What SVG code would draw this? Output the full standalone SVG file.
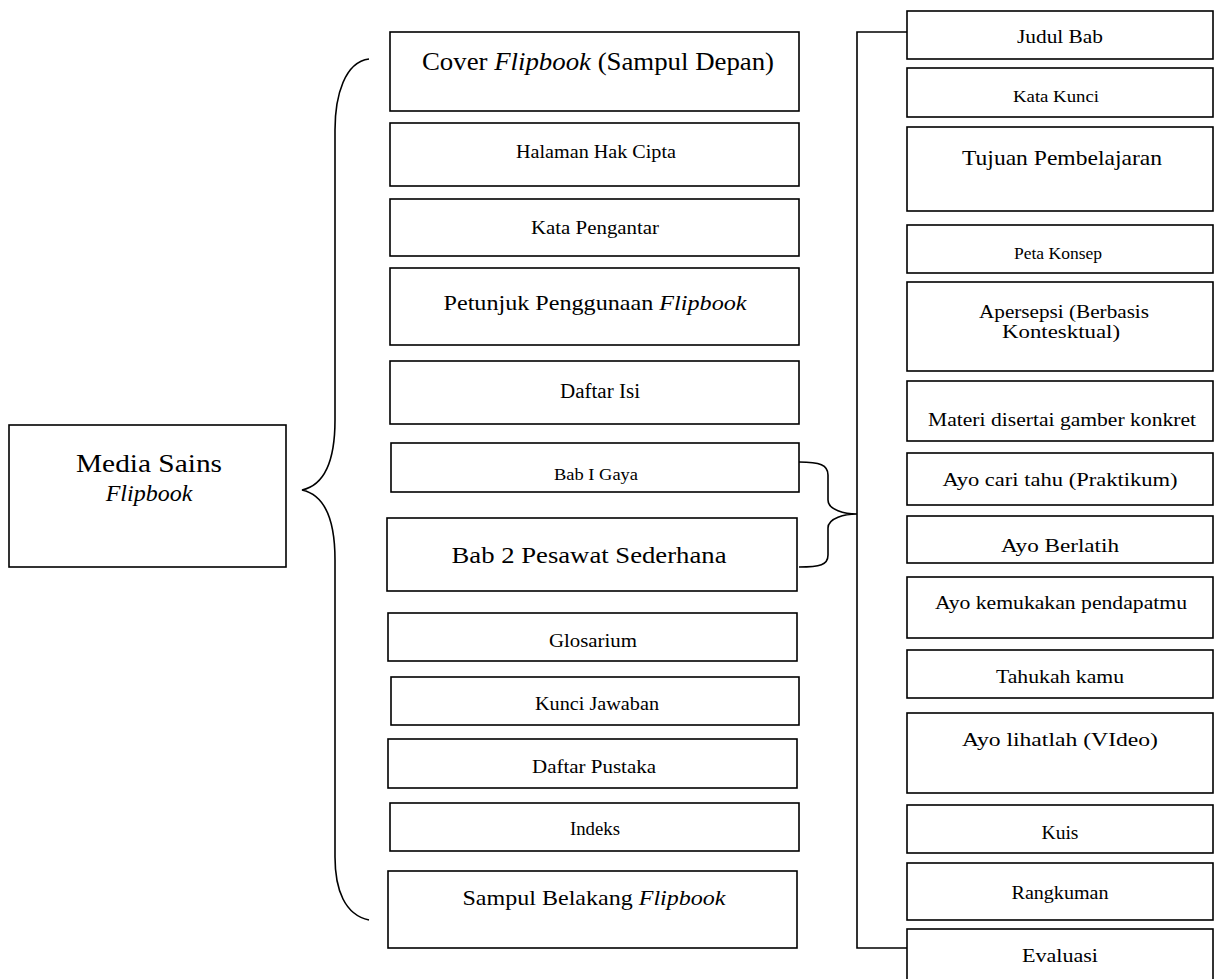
<svg xmlns="http://www.w3.org/2000/svg" width="1214" height="979" viewBox="0 0 1214 979">
<style>
rect{fill:#fff;stroke:#000;stroke-width:1.6}
text{font-family:"Liberation Serif","Times New Roman",serif;fill:#000;text-anchor:middle}
.c{fill:none;stroke:#000;stroke-width:1.6}
</style>
<rect x="0" y="0" width="1214" height="979" style="stroke:none"/>
<g id="connectors">
<path class="c" d="M369,59 C345,62 335,95 335,130 L335,420 C335,460 325,485 302,490 C325,495 335,520 335,560 L335,857 C335,890 345,915 369,920"/>
<path class="c" d="M799,462 C820,462 828,465 828,475 L828,500 C828,510 845,514 857,514 C845,514 828,518 828,528 L828,555 C828,565 820,567 799,567"/>
<path class="c" d="M907,32 L857,32 L857,948 L907,948"/>
</g>
<g id="media"><rect x="9" y="425" width="277" height="142"/><text x="149" y="472" font-size="26" textLength="146" lengthAdjust="spacingAndGlyphs">Media Sains</text><text x="149" y="501" font-size="24" font-style="italic">Flipbook</text></g>
<g id="cover"><rect x="390" y="32" width="409" height="79"/><text x="598" y="70" font-size="25" textLength="352" lengthAdjust="spacingAndGlyphs">Cover <tspan font-style="italic">Flipbook</tspan> (Sampul Depan)</text></g>
<g id="hak"><rect x="390" y="123" width="409" height="63"/><text x="596" y="158" font-size="18" textLength="160" lengthAdjust="spacingAndGlyphs">Halaman Hak Cipta</text></g>
<g id="pengantar"><rect x="390" y="199" width="409" height="57"/><text x="595" y="234" font-size="18" textLength="128" lengthAdjust="spacingAndGlyphs">Kata Pengantar</text></g>
<g id="petunjuk"><rect x="390" y="268" width="409" height="77"/><text x="595" y="310" font-size="21" textLength="303" lengthAdjust="spacingAndGlyphs">Petunjuk Penggunaan <tspan font-style="italic">Flipbook</tspan></text></g>
<g id="daftarisi"><rect x="390" y="361" width="409" height="63"/><text x="600" y="398" font-size="20" textLength="80" lengthAdjust="spacingAndGlyphs">Daftar Isi</text></g>
<g id="bab1"><rect x="391" y="443" width="408" height="49"/><text x="596" y="480" font-size="17" textLength="84" lengthAdjust="spacingAndGlyphs">Bab I Gaya</text></g>
<g id="bab2"><rect x="387" y="518" width="410" height="73"/><text x="589" y="563" font-size="23" textLength="275" lengthAdjust="spacingAndGlyphs">Bab 2 Pesawat Sederhana</text></g>
<g id="glosarium"><rect x="388" y="613" width="409" height="48"/><text x="593" y="647" font-size="18" textLength="88" lengthAdjust="spacingAndGlyphs">Glosarium</text></g>
<g id="kunci"><rect x="391" y="677" width="408" height="48"/><text x="597" y="710" font-size="18" textLength="124" lengthAdjust="spacingAndGlyphs">Kunci Jawaban</text></g>
<g id="pustaka"><rect x="388" y="739" width="409" height="49"/><text x="594" y="773" font-size="18" textLength="124" lengthAdjust="spacingAndGlyphs">Daftar Pustaka</text></g>
<g id="indeks"><rect x="390" y="803" width="409" height="48"/><text x="595" y="835" font-size="18" textLength="50" lengthAdjust="spacingAndGlyphs">Indeks</text></g>
<g id="belakang"><rect x="388" y="871" width="409" height="77"/><text x="594" y="905" font-size="21" textLength="263" lengthAdjust="spacingAndGlyphs">Sampul Belakang <tspan font-style="italic">Flipbook</tspan></text></g>
<g id="judul"><rect x="907" y="11" width="306" height="48"/><text x="1060" y="43" font-size="18" textLength="86" lengthAdjust="spacingAndGlyphs">Judul Bab</text></g>
<g id="katakunci"><rect x="907" y="68" width="306" height="49"/><text x="1056" y="102" font-size="17" textLength="86" lengthAdjust="spacingAndGlyphs">Kata Kunci</text></g>
<g id="tujuan"><rect x="907" y="127" width="306" height="84"/><text x="1062" y="165" font-size="21" textLength="200" lengthAdjust="spacingAndGlyphs">Tujuan Pembelajaran</text></g>
<g id="peta"><rect x="907" y="225" width="306" height="48"/><text x="1058" y="259" font-size="16" textLength="88" lengthAdjust="spacingAndGlyphs">Peta Konsep</text></g>
<g id="apersepsi"><rect x="907" y="282" width="306" height="89"/><text x="1064" y="318" font-size="18" textLength="170" lengthAdjust="spacingAndGlyphs">Apersepsi (Berbasis</text><text x="1061" y="338" font-size="18" textLength="118" lengthAdjust="spacingAndGlyphs">Kontesktual)</text></g>
<g id="materi"><rect x="907" y="381" width="306" height="60"/><text x="1062" y="426" font-size="18" textLength="268" lengthAdjust="spacingAndGlyphs">Materi disertai gamber konkret</text></g>
<g id="cari"><rect x="907" y="453" width="306" height="52"/><text x="1060" y="486" font-size="18" textLength="235" lengthAdjust="spacingAndGlyphs">Ayo cari tahu (Praktikum)</text></g>
<g id="berlatih"><rect x="907" y="516" width="306" height="47"/><text x="1060" y="552" font-size="18" textLength="118" lengthAdjust="spacingAndGlyphs">Ayo Berlatih</text></g>
<g id="kemukakan"><rect x="907" y="577" width="306" height="61"/><text x="1061" y="609" font-size="18" textLength="252" lengthAdjust="spacingAndGlyphs">Ayo kemukakan pendapatmu</text></g>
<g id="tahukah"><rect x="907" y="650" width="306" height="48"/><text x="1060" y="683" font-size="18" textLength="128" lengthAdjust="spacingAndGlyphs">Tahukah kamu</text></g>
<g id="lihatlah"><rect x="907" y="713" width="306" height="80"/><text x="1060" y="746" font-size="18" textLength="196" lengthAdjust="spacingAndGlyphs">Ayo lihatlah (VIdeo)</text></g>
<g id="kuis"><rect x="907" y="805" width="306" height="48"/><text x="1060" y="839" font-size="18" textLength="37" lengthAdjust="spacingAndGlyphs">Kuis</text></g>
<g id="rangkuman"><rect x="907" y="863" width="306" height="57"/><text x="1060" y="899" font-size="18" textLength="97" lengthAdjust="spacingAndGlyphs">Rangkuman</text></g>
<g id="evaluasi"><rect x="907" y="929" width="306" height="60"/><text x="1060" y="962" font-size="18" textLength="76" lengthAdjust="spacingAndGlyphs">Evaluasi</text></g>
</svg>
